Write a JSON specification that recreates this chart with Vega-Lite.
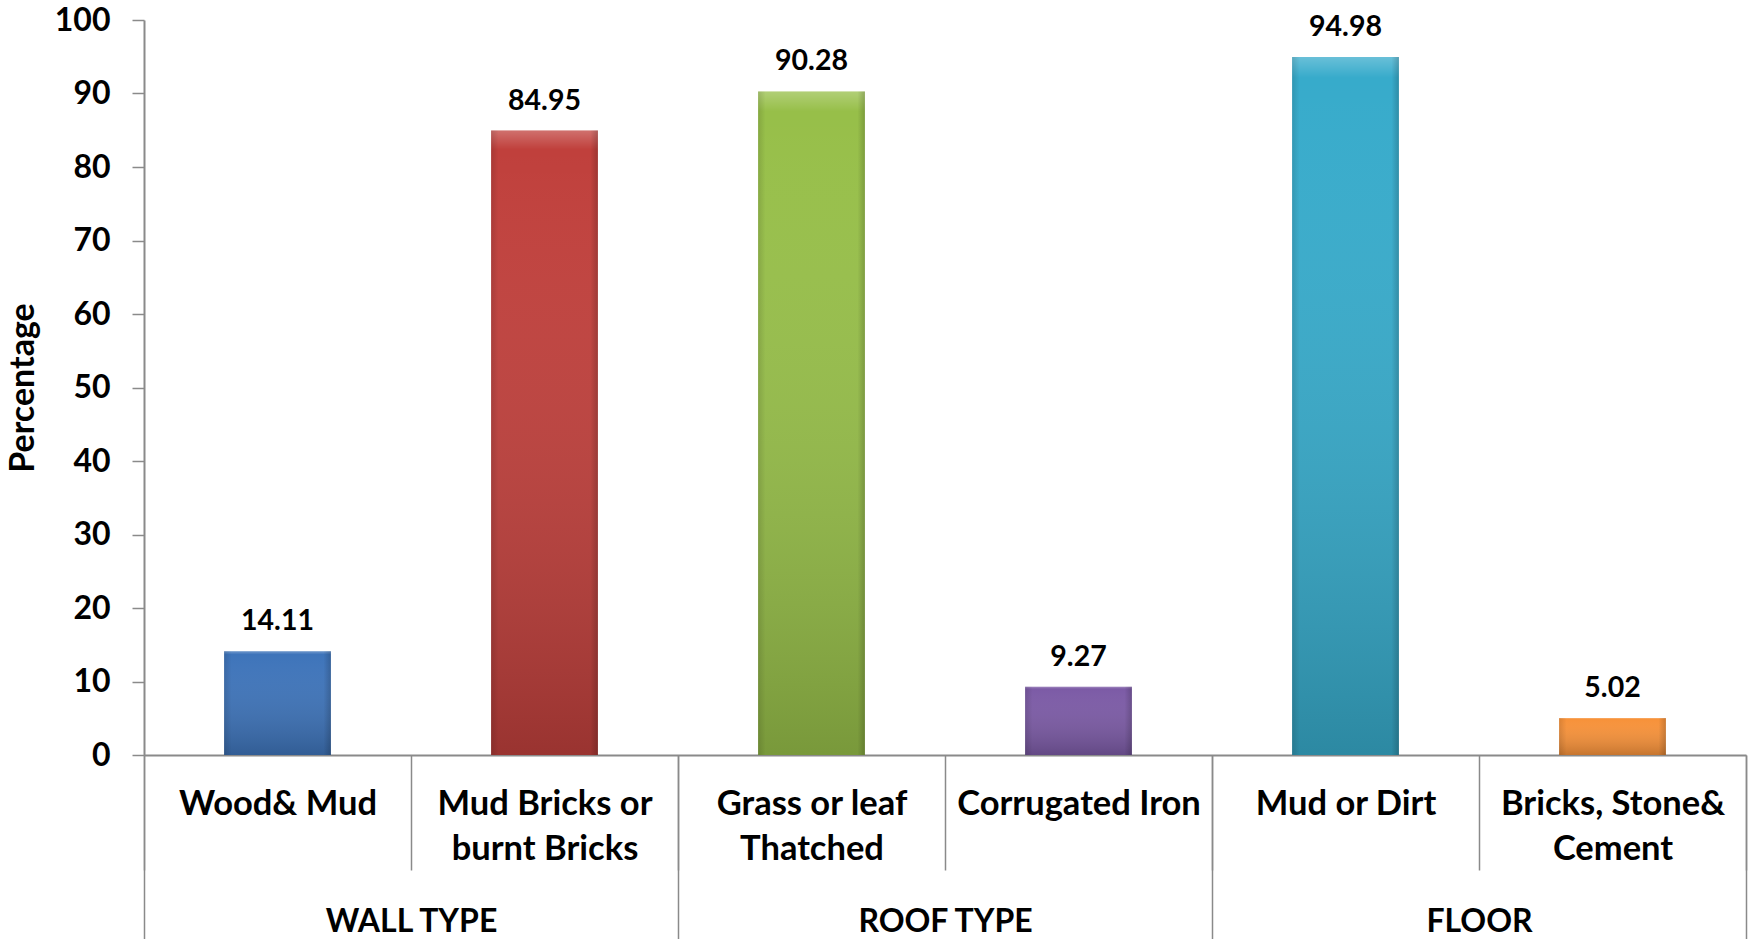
{
  "$schema": "https://vega.github.io/schema/vega-lite/v6.json",
  "width": 1602,
  "height": 735,
  "autosize": {"type": "none"},
  "padding": {"left": 144, "top": 20, "right": 4, "bottom": 184},
  "background": "white",
  "config": {"view": {"stroke": null}, "font": "Lato"},
  "data": {
    "values": [
      {"category": "Wood& Mud", "group": "WALL TYPE", "value": 14.11},
      {"category": "Mud Bricks or|burnt Bricks", "group": "WALL TYPE", "value": 84.95},
      {"category": "Grass or leaf|Thatched", "group": "ROOF TYPE", "value": 90.28},
      {"category": "Corrugated Iron", "group": "ROOF TYPE", "value": 9.27},
      {"category": "Mud or Dirt", "group": "FLOOR", "value": 94.98},
      {"category": "Bricks, Stone&|Cement", "group": "FLOOR", "value": 5.02}
    ]
  },
  "layer": [
    {
      "encoding": {
        "x": {
          "field": "category",
          "type": "nominal",
          "sort": null,
          "scale": {"type": "band", "paddingInner": 0, "paddingOuter": 0},
          "axis": {
            "title": null,
            "labelAngle": 0,
            "tickBand": "extent",
            "tickSize": 115,
            "tickColor": "#8a8a8a",
            "tickWidth": 1.5,
            "domainColor": "#8a8a8a",
            "domainWidth": 2,
            "labelFont": "Lato",
            "labelFontWeight": "bold",
            "labelFontSize": 34.5,
            "labelColor": "black",
            "labelPadding": -83,
            "labelLineHeight": 45,
            "labelLimit": 0,
            "labelBaseline": "top",
            "labelExpr": "split(datum.label, '|')"
          }
        },
        "y": {
          "field": "value",
          "type": "quantitative",
          "scale": {"domain": [0, 100]},
          "axis": {
            "title": "Percentage",
            "values": [0, 10, 20, 30, 40, 50, 60, 70, 80, 90, 100],
            "grid": false,
            "tickSize": 12,
            "tickColor": "#8a8a8a",
            "tickWidth": 1.5,
            "domainColor": "#8a8a8a",
            "domainWidth": 2,
            "labelPadding": 22,
            "labelFont": "Lato",
            "labelFontSize": 32,
            "labelFontWeight": "bold",
            "labelColor": "black",
            "titleFont": "Lato",
            "titleFontSize": 34,
            "titleFontWeight": "bold",
            "titleColor": "black",
            "titlePadding": 14
          }
        }
      },
      "layer": [
        {
          "mark": {"type": "bar", "width": {"band": 0.4}},
          "encoding": {
            "color": {
              "field": "category",
              "type": "nominal",
              "legend": null,
              "scale": {
                "domain": ["Wood& Mud", "Mud Bricks or|burnt Bricks", "Grass or leaf|Thatched", "Corrugated Iron", "Mud or Dirt", "Bricks, Stone&|Cement"],
                "range": ["#3e74ba", "#c0403c", "#97bf49", "#7c5ba6", "#37abcb", "#f7923a"]
              }
            }
          }
        },
        {
          "mark": {
            "type": "bar",
            "width": {"band": 0.4},
            "color": {
              "gradient": "linear",
              "x1": 0, "y1": 0, "x2": 0, "y2": 1,
              "stops": [
                {"offset": 0, "color": "rgba(255,255,255,0.25)"},
                {"offset": 0.03, "color": "rgba(255,255,255,0.0)"},
                {"offset": 1, "color": "rgba(0,0,0,0.2)"}
              ]
            }
          },
          "encoding": {}
        },
        {
          "mark": {
            "type": "bar",
            "width": {"band": 0.4},
            "color": {
              "gradient": "linear",
              "x1": 0, "y1": 0, "x2": 1, "y2": 0,
              "stops": [
                {"offset": 0, "color": "rgba(0,0,0,0.12)"},
                {"offset": 0.07, "color": "rgba(0,0,0,0.0)"},
                {"offset": 0.93, "color": "rgba(0,0,0,0.0)"},
                {"offset": 1, "color": "rgba(0,0,0,0.18)"}
              ]
            }
          },
          "encoding": {}
        },
        {
          "mark": {"type": "text", "baseline": "alphabetic", "dy": -21, "fontSize": 28.5, "fontWeight": "bold", "font": "Lato", "color": "black"},
          "encoding": {
            "text": {"field": "value", "type": "quantitative", "format": ".2f"}
          }
        }
      ]
    },
    {
      "mark": {"type": "point", "opacity": 0},
      "encoding": {
        "x": {
          "field": "group",
          "type": "nominal",
          "sort": null,
          "scale": {"type": "band", "paddingInner": 0, "paddingOuter": 0},
          "axis": {
            "orient": "bottom",
            "title": null,
            "labelAngle": 0,
            "tickBand": "extent",
            "tickSize": 184,
            "tickColor": "#8a8a8a",
            "tickWidth": 1.5,
            "domain": false,
            "labelFont": "Lato",
            "labelFontWeight": "bold",
            "labelFontSize": 32,
            "labelColor": "black",
            "labelPadding": -33,
            "labelLimit": 0,
            "labelBaseline": "top"
          }
        },
        "y": {"field": "value", "type": "quantitative"}
      }
    }
  ],
  "resolve": {"scale": {"x": "independent"}, "axis": {"x": "independent"}}
}
